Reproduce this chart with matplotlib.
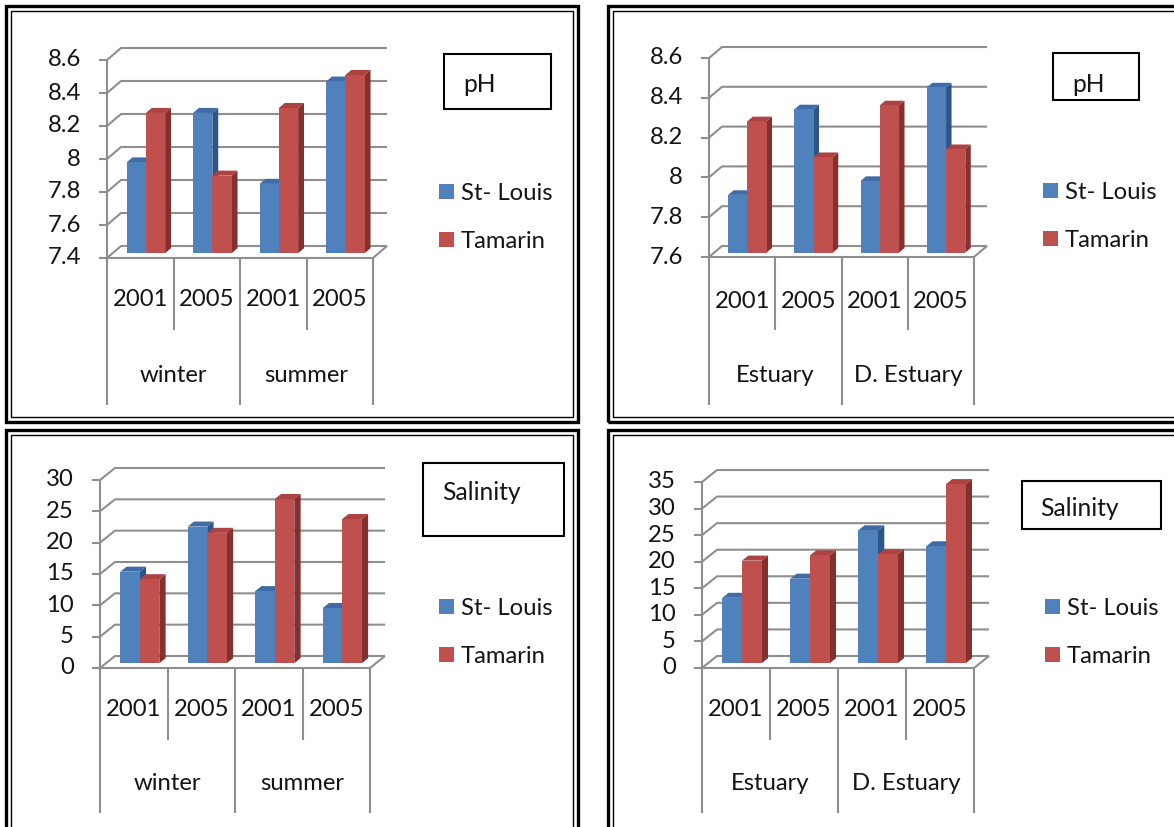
import matplotlib
matplotlib.use("Agg")
import matplotlib.pyplot as plt
import matplotlib.transforms as mtransforms
from matplotlib.patches import Rectangle, Polygon, Patch

plt.rcParams['font.family'] = ['Lato', 'DejaVu Sans']

W, H = 1174, 827
DPI = 100

series = ["St- Louis", "Tamarin"]
years = ["2001", "2005", "2001", "2005"]
seasons = ["winter", "summer"]
sites = ["Estuary", "D. Estuary"]

# pH by season
ph_season_stlouis = [7.95, 8.25, 7.82, 8.44]
ph_season_tamarin = [8.25, 7.87, 8.28, 8.48]
ph_season_ticks = [7.4, 7.6, 7.8, 8.0, 8.2, 8.4, 8.6]
ph_season_labels = ["7.4", "7.6", "7.8", "8", "8.2", "8.4", "8.6"]

# pH by site
ph_site_stlouis = [7.89, 8.32, 7.96, 8.43]
ph_site_tamarin = [8.26, 8.08, 8.34, 8.12]
ph_site_ticks = [7.6, 7.8, 8.0, 8.2, 8.4, 8.6]
ph_site_labels = ["7.6", "7.8", "8", "8.2", "8.4", "8.6"]

# salinity by season
sal_season_stlouis = [14.6, 21.8, 11.5, 8.8]
sal_season_tamarin = [13.4, 20.8, 26.2, 23.0]
sal_season_ticks = [0, 5, 10, 15, 20, 25, 30]

# salinity by site
sal_site_stlouis = [12.3, 15.9, 25.0, 22.0]
sal_site_tamarin = [19.3, 20.3, 20.5, 33.7]
sal_site_ticks = [0, 5, 10, 15, 20, 25, 30, 35]

BLUE, BLUE_TOP, BLUE_SIDE = "#4f81bd", "#3f6ca6", "#2f5587"
RED, RED_TOP, RED_SIDE = "#c0504d", "#ac4340", "#83302e"
GRID = "#8e8e8e"
TXT = "#141414"
FS = 17.2

fig = plt.figure(figsize=(W / DPI, H / DPI), dpi=DPI)
fig.patch.set_facecolor("white")


def fx(px):
    return px / W


def fy(py):
    return 1 - py / H


def frame(x, y, w, h):
    fig.patches.append(Rectangle((fx(x), fy(y + h)), w / W, h / H, fill=False,
                                 ec="black", lw=2.4, transform=fig.transFigure))
    fig.patches.append(Rectangle((fx(x + 5), fy(y + h - 5)), (w - 10) / W, (h - 10) / H,
                                 fill=False, ec="black", lw=1.0, transform=fig.transFigure))


def panel(box, depth, ticks, labels, groups, blue, red, title, tbox, ttext,
          leg, year_y, group_y, year_end, group_end):
    x0, x1, yt, yb = box
    ddx, ddy = depth
    vmin, vmax = ticks[0], ticks[-1]
    ax = fig.add_axes([fx(x0), fy(yb), (x1 - x0) / W, (yb - yt) / H])
    ax.set_xlim(-0.5, 3.5)
    ax.set_ylim(vmin, vmax)
    ax.axis("off")

    cat_px = (x1 - x0) / 4
    DX = ddx / cat_px
    DV = ddy * (vmax - vmin) / (yb - yt)
    kw = dict(color=GRID, lw=1.5, clip_on=False, solid_capstyle="butt")

    # walls: side wall diagonals and back wall gridlines
    for v in ticks:
        ax.plot([-0.5, -0.5 + DX, 3.5 + DX], [v, v + DV, v + DV], zorder=1, **kw)
        ax.plot([-0.5 - 8 / cat_px, -0.5], [v, v], zorder=1, **kw)
    ax.plot([-0.5, -0.5], [vmin, vmax], zorder=1, **kw)
    ax.plot([-0.5, 3.5, 3.5 + DX], [vmin, vmin, vmin + DV], zorder=1, **kw)

    lab_tr = ax.transData + mtransforms.ScaledTranslation(-26 / DPI, 0, fig.dpi_scale_trans)
    for v, s in zip(ticks, labels):
        ax.text(-0.5, v, s, transform=lab_tr, ha="right", va="center",
                fontsize=FS, color=TXT)

    # multi-level category axis below the floor
    bt = mtransforms.blended_transform_factory(ax.transData, fig.transFigure)
    for i, xb in enumerate([-0.5, 0.5, 1.5, 2.5, 3.5]):
        end = group_end if i % 2 == 0 else year_end
        ax.plot([xb, xb], [fy(yb), fy(end)], transform=bt, **kw)
    for i, yr in enumerate(years):
        ax.text(i, fy(year_y), yr, transform=bt, ha="center", va="center",
                fontsize=FS, color=TXT)
    for j, g in enumerate(groups):
        ax.text(2 * j + 0.5, fy(group_y), g, transform=bt, ha="center", va="center",
                fontsize=FS, color=TXT)

    # columns with a top and a right side face
    w = 0.29
    f, g = 0.4, 0.42
    for i in range(4):
        for k, (vals, c, ct, cs) in enumerate([(blue, BLUE, BLUE_TOP, BLUE_SIDE),
                                                (red, RED, RED_TOP, RED_SIDE)]):
            xc = i + (k - 0.5) * w + f * DX
            b = vmin + f * DV
            t = vals[i] + f * DV
            xl, xr = xc - w / 2, xc + w / 2
            ax.add_patch(Polygon([(xr, b), (xr, t), (xr + g * DX, t + g * DV),
                                  (xr + g * DX, b + g * DV)], closed=True, fc=cs,
                                 ec="none", clip_on=False, zorder=3))
            ax.add_patch(Polygon([(xl, t), (xr, t), (xr + g * DX, t + g * DV),
                                  (xl + g * DX, t + g * DV)], closed=True, fc=ct,
                                 ec="none", clip_on=False, zorder=3))
            ax.bar([xc], [vals[i] - vmin], bottom=b, width=w, color=c, lw=0,
                   clip_on=False, zorder=3)

    # title box
    bx, by, bw, bh = tbox
    fig.patches.append(Rectangle((fx(bx), fy(by + bh)), bw / W, bh / H, fill=False,
                                 ec="black", lw=1.5, transform=fig.transFigure))
    fig.text(fx(ttext[0]), fy(ttext[1]), title, ha="left", va="center",
             fontsize=FS + 0.5, color=TXT)

    handles = [Patch(fc=BLUE, ec="none"), Patch(fc=RED, ec="none")]
    ax.legend(handles, series, loc="upper left",
              bbox_to_anchor=(fx(leg[0]), fy(leg[1])), bbox_transform=fig.transFigure,
              frameon=False, fontsize=FS, handlelength=0.62, handleheight=0.62,
              handletextpad=0.3, labelspacing=1.12, borderpad=0, borderaxespad=0,
              labelcolor=TXT)
    return ax


frame(6, 6, 572, 416)
frame(608, 6, 600, 416)
frame(6, 430, 572, 430)
frame(608, 430, 600, 430)

panel((107, 373, 60, 258), (14, 12), ph_season_ticks, ph_season_labels, seasons,
      ph_season_stlouis, ph_season_tamarin, "pH", (444, 54, 107, 55), (463, 85),
      (439, 183), 300, 375, 330, 405)

panel((709, 974, 58, 257), (13, 11), ph_site_ticks, ph_site_labels, sites,
      ph_site_stlouis, ph_site_tamarin, "pH", (1053, 53, 86, 47), (1072, 85),
      (1043, 182), 302, 375, 330, 405)

panel((100, 370, 480, 668), (15, 12), sal_season_ticks,
      [str(v) for v in sal_season_ticks], seasons,
      sal_season_stlouis, sal_season_tamarin, "Salinity", (423, 463, 141, 73),
      (442, 492), (439, 598), 710, 783, 740, 813)

panel((702, 974, 482, 668), (15, 12), sal_site_ticks,
      [str(v) for v in sal_site_ticks], sites,
      sal_site_stlouis, sal_site_tamarin, "Salinity", (1022, 481, 139, 48),
      (1040, 508), (1045, 598), 710, 783, 740, 813)

fig.savefig("out.png", dpi=DPI, facecolor="white")
